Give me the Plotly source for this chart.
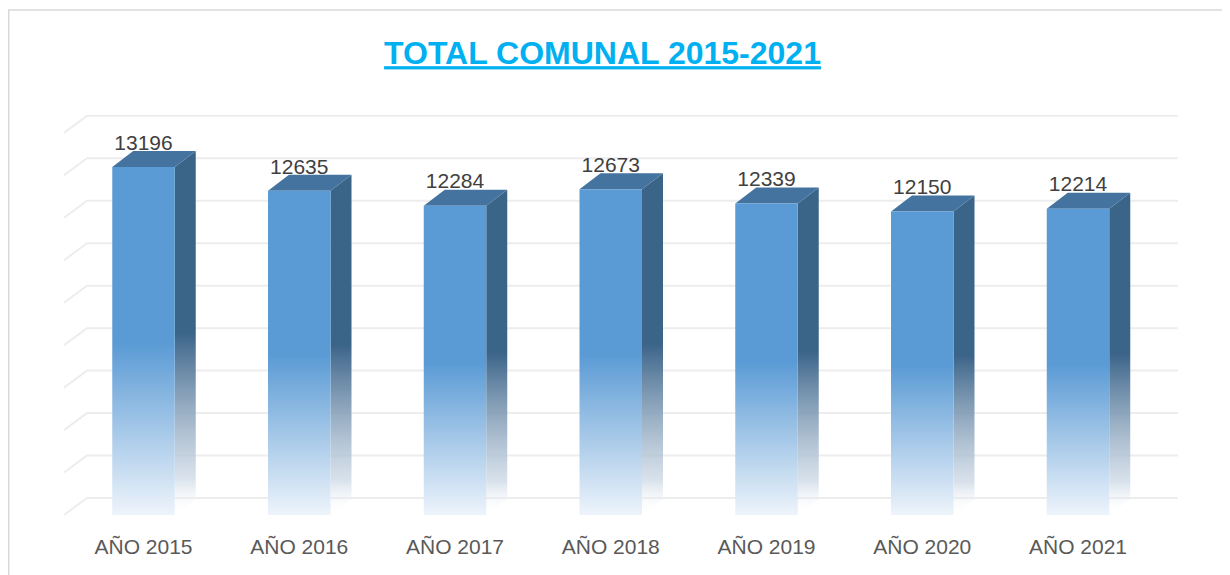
import plotly.graph_objects as go

# ---------------- data ----------------
categories = ["AÑO 2015", "AÑO 2016", "AÑO 2017", "AÑO 2018", "AÑO 2019", "AÑO 2020", "AÑO 2021"]
values = [13196, 12635, 12284, 12673, 12339, 12150, 12214]
grid_values = [5000, 6000, 7000, 8000, 9000, 10000, 11000, 12000, 13000, 14000]
title_text = "TOTAL COMUNAL 2015-2021"

# ---------------- layout geometry (page pixels) ----------------
PW, PH = 1230, 575       # browser window
OFF = 8                  # default body margin of the html page
W, H = PW - OFF, PH - OFF
L, R, T, B = 60, 1190, 100, 532
CAT_PX = 155.75      # pixels per category step
X0_PX = 143.5        # pixel x of the first category
BASE = 5000          # axis floor value
BASE_PX = 515        # pixel y of the floor (front)
K = 0.04246          # pixels per value unit

x_range = [(L - X0_PX) / CAT_PX, (R - X0_PX) / CAT_PX]
y_range = [BASE - (B - BASE_PX) / K, BASE + (BASE_PX - T) / K]

# 3D depth offsets in data units
dxb, dyb = 21 / CAT_PX, 16 / K      # bars
dxw, dyw = 23 / CAT_PX, 17 / K      # walls
bw = 62.5 / CAT_PX                  # bar width
wall_left = (64 - X0_PX) / CAT_PX
wall_right = (1178 - X0_PX) / CAT_PX
label_shift = 4 / K

FRONT = "#5B9BD5"
SIDE = "#3B6489"
TOP = "#44739F"
FONT = "Liberation Sans, Arial, sans-serif"

fig = go.Figure()

# back wall + side wall gridlines
gx, gy = [], []
for g in grid_values:
    gx += [wall_left, wall_left + dxw, wall_right, None]
    gy += [g, g + dyw, g + dyw, None]
fig.add_trace(go.Scatter(x=gx, y=gy, mode="lines",
                         line=dict(color="#EDEDED", width=2),
                         hoverinfo="skip"))

for i, v in enumerate(values):
    xl, xr = i - bw / 2, i + bw / 2
    # side face
    fig.add_trace(go.Scatter(
        x=[xr, xr + dxb, xr + dxb, xr, xr],
        y=[BASE, BASE + dyb, v + dyb, v, BASE],
        mode="lines", line=dict(width=0), fill="toself",
        fillgradient=dict(type="vertical", colorscale=[
            [0, "rgba(255,255,255,0)"],
            [0.1, "rgba(205,217,230,0.75)"],
            [0.5, SIDE], [1, SIDE]]),
        hoverinfo="skip"))
    # top face
    fig.add_trace(go.Scatter(
        x=[xl, xr, xr + dxb, xl + dxb, xl],
        y=[v, v, v + dyb, v + dyb, v],
        mode="lines", line=dict(width=0), fill="toself",
        fillcolor=TOP, hoverinfo="skip"))
    # front face
    fig.add_trace(go.Scatter(
        x=[xl, xr, xr, xl, xl],
        y=[BASE, BASE, v, v, BASE],
        mode="lines", line=dict(width=0), fill="toself",
        fillgradient=dict(type="vertical", colorscale=[
            [0, "#EEF4FB"], [0.49, FRONT], [1, FRONT]]),
        hoverinfo="skip"))

# data labels
fig.add_trace(go.Scatter(
    x=list(range(len(values))), y=[v + dyb - label_shift for v in values],
    mode="text", text=[str(v) for v in values], textposition="top center",
    textfont=dict(family=FONT, size=21, color="#404040"),
    hoverinfo="skip"))

# outer chart border
fig.add_shape(type="rect", xref="paper", yref="paper",
              x0=(8.7 - L) / (R - L), x1=(1250 - L) / (R - L),
              y0=(B - 600) / (B - T), y1=(B - 10) / (B - T),
              line=dict(color="#D9D9D9", width=1.5), fillcolor="rgba(0,0,0,0)",
              layer="below")

fig.update_layout(
    width=W, height=H,
    margin=dict(l=L - OFF, r=PW - R, t=T - OFF, b=PH - B),
    paper_bgcolor="white", plot_bgcolor="white",
    showlegend=False,
    title=dict(text="<u><b>" + title_text + "</b></u>",
               x=(602.5 - OFF) / W, xanchor="center", xref="container",
               y=1 - (53 - OFF) / H, yanchor="middle", yref="container",
               font=dict(family=FONT, size=32, color="#00B0F0")),
    xaxis=dict(range=x_range, tickvals=list(range(len(categories))), ticktext=categories,
               showgrid=False, zeroline=False, showline=False, ticks="",
               tickfont=dict(family=FONT, size=21, color="#595959"),
               fixedrange=True),
    yaxis=dict(range=y_range, visible=False, fixedrange=True),
)

fig.write_html("out.html")
